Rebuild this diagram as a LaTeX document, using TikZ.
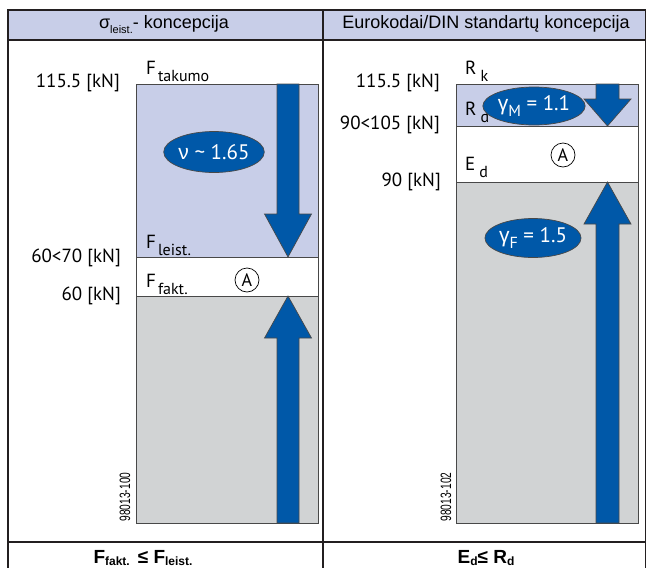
\documentclass[tikz,border=0pt]{standalone}
\usepackage{fontspec}
\setmainfont{Liberation Sans}
\newfontfamily\lblfont{PT Sans}
\newfontfamily\grkfont{Liberation Sans}
\usepackage{xcolor}
\usetikzlibrary{shapes,positioning,calc}

\definecolor{bandblue}{RGB}{200,206,232}
\definecolor{bandgrey}{RGB}{209,211,212}
\definecolor{arrblue}{RGB}{0,88,168}
\definecolor{edgegrey}{RGB}{72,72,72}
\definecolor{gridline}{RGB}{35,31,32}

% lowered index after a label letter
\newcommand{\lsub}[2][2pt]{\hspace{#1}\raisebox{-7pt}{\fontsize{16}{16}\selectfont #2}}

\begin{document}
\begin{tikzpicture}[x=1pt, y=-1pt,
    grid/.style={draw=gridline, line width=1.1pt},
    boxline/.style={draw=edgegrey, line width=1pt},
    arrowbody/.style={fill=arrblue, draw=edgegrey, line width=0.7pt},
    lbl/.style={font=\lblfont\fontsize{19}{19}\selectfont, inner sep=0pt},
    ell/.style={ellipse, fill=arrblue, draw=edgegrey, line width=0.7pt, text=white, inner sep=0pt, font=\lblfont\fontsize{21}{21}\selectfont},
    circA/.style={circle, draw=black, line width=0.7pt, minimum size=24pt, inner sep=0pt, font=\lblfont\fontsize{18}{18}\selectfont},
    code/.style={rotate=90, inner sep=0pt, font=\fontsize{15}{15}\selectfont},
    head/.style={inner sep=0pt, font=\fontsize{18}{18}\selectfont},
    foot/.style={inner sep=0pt, font=\bfseries\fontsize{19}{19}\selectfont}]
    \useasboundingbox (0,0) rectangle (646,568);

    % table
    \fill [bandblue] (8,10) rectangle (646,40);
    \draw [grid] (8,568) -- (8,10) -- (646,10) -- (646,568);
    \draw [grid] (8,40) -- (646,40);
    \draw [grid] (8,542) -- (646,542);
    \draw [grid] (323,10) -- (323,568);

    \node (headL) [head, anchor=base] at (164,28) {σ\raisebox{-5pt}{\fontsize{11}{11}\selectfont leist.}- koncepcija};
    \node (headR) [head, anchor=base] at (486,28) {Eurokodai/DIN standartų koncepcija};

    % left column bands
    \fill [bandblue] (136,84) rectangle (318,257);
    \fill [bandgrey] (136,296) rectangle (318,523);
    \draw [boxline] (136,84) rectangle (318,523);
    \draw [boxline] (136,257) -- (318,257);
    \draw [boxline] (136,296) -- (318,296);

    % right column bands
    \fill [bandblue] (456,84) rectangle (638,126);
    \fill [bandgrey] (456,182) rectangle (638,523);
    \draw [boxline] (456,84) rectangle (638,523);
    \draw [boxline] (456,126) -- (638,126);
    \draw [boxline] (456,182) -- (638,182);

    % arrows
    \filldraw [arrowbody] (277,84) -- (299,84) -- (299,214) -- (311.5,214) -- (288,257) -- (264.5,214) -- (277,214) -- cycle;
    \filldraw [arrowbody] (277,523) -- (299,523) -- (299,338) -- (311.5,338) -- (288,296) -- (264.5,338) -- (277,338) -- cycle;
    \filldraw [arrowbody] (596,84) -- (619,84) -- (619,99) -- (631,99) -- (607.5,126) -- (584,99) -- (596,99) -- cycle;
    \filldraw [arrowbody] (596,523) -- (619,523) -- (619,224) -- (631,224) -- (607.5,182) -- (584,224) -- (596,224) -- cycle;

    % left labels
    \node (topL) [lbl, anchor=east] at (120,83) {115.5 [kN]};
    \node (leistL) [lbl, anchor=east] at (121,258) {60<70 [kN]};
    \node (faktL) [lbl, anchor=east] at (121,296) {60 [kN]};
    \node (Ftak) [lbl, anchor=base west] at (146,74) {F\lsub{takumo}};
    \node (Fleist) [lbl, anchor=base west] at (146,248) {F\lsub{leist.}};
    \node (Ffakt) [lbl, anchor=base west] at (146,287) {F\lsub{fakt.}};
    \node (nu) [ell, minimum width=87pt, minimum height=41pt] at (214,152) {{\grkfont ν} \textasciitilde{} 1.65};
    \node (AL) [circA] at (247,280) {A};
    \node (codeL) [code] at (125,497) {\scalebox{0.68}[1]{98013-100}};

    % right labels
    \node (topR) [lbl, anchor=east] at (440,83) {115.5 [kN]};
    \node (midR) [lbl, anchor=east] at (440,125) {90<105 [kN]};
    \node (lowR) [lbl, anchor=east] at (441,182) {90 [kN]};
    \node (Rk) [lbl, anchor=base west] at (465,74) {R\lsub[4pt]{k}};
    \node (Rd) [lbl, anchor=base west] at (465,115) {R\lsub[4pt]{d}};
    \node (Ed) [lbl, anchor=base west] at (465,170) {E\lsub[4pt]{d}};
    \node (gM) [ell, minimum width=88pt, minimum height=38pt] at (534,106) {{\grkfont γ}\raisebox{-6pt}{\fontsize{16}{16}\selectfont M} = 1.1};
    \node (gF) [ell, minimum width=88pt, minimum height=39pt] at (533,238) {{\grkfont γ}\raisebox{-6pt}{\fontsize{16}{16}\selectfont F} = 1.5};
    \node (AR) [circA] at (563,155) {A};
    \node (codeR) [code] at (446,497) {\scalebox{0.68}[1]{98013-102}};

    % footer
    \node (footL) [foot, anchor=base] at (143,563) {F\raisebox{-2pt}{\fontsize{12}{12}\selectfont fakt.}\hspace{8pt}≤ F\raisebox{-2pt}{\fontsize{12}{12}\selectfont leist.}};
    \node (footR) [foot, anchor=base] at (486,563) {E\raisebox{-2pt}{\fontsize{12}{12}\selectfont d}≤ R\raisebox{-2pt}{\fontsize{12}{12}\selectfont d}};
\end{tikzpicture}
\end{document}
